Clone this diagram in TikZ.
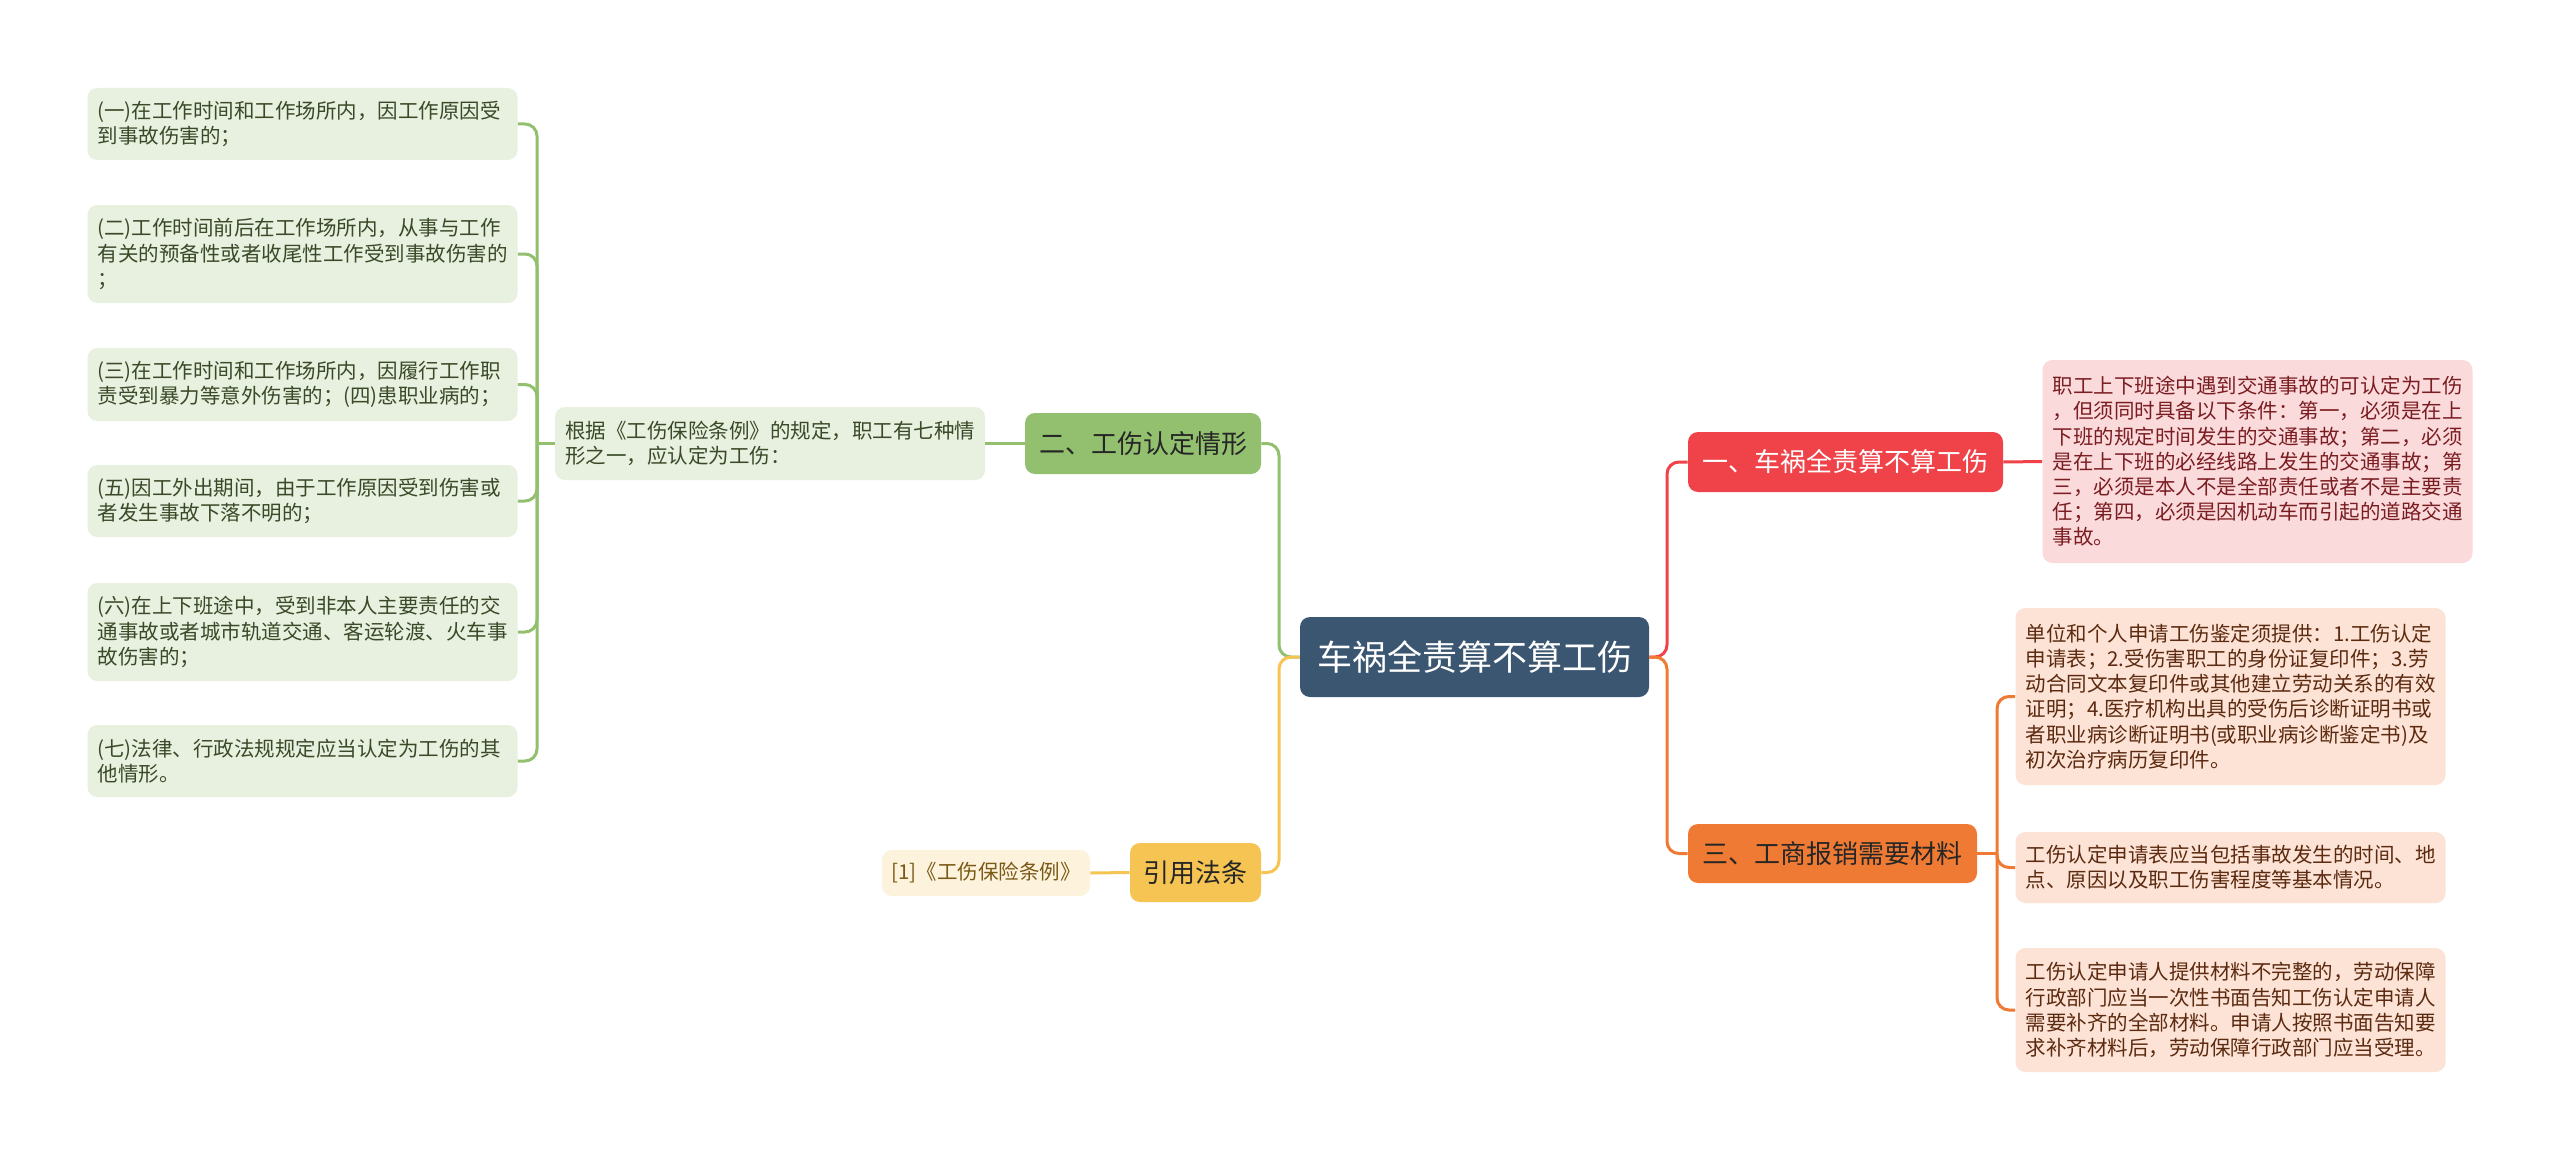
\documentclass[tikz,border=0pt]{standalone}
\usepackage{fontspec}
\setmainfont{Noto Sans CJK SC}
\usepackage{tikz}

\definecolor{rootfill}{HTML}{3B5671}
\definecolor{redmain}{HTML}{EF4349}
\definecolor{redleaf}{HTML}{FBDADB}
\definecolor{redtext}{HTML}{7A1D22}
\definecolor{orgmain}{HTML}{EF7A33}
\definecolor{orgleaf}{HTML}{FCE3D5}
\definecolor{orgtext}{HTML}{5C2A10}
\definecolor{grnmain}{HTML}{92C06F}
\definecolor{grnleaf}{HTML}{E8F0DF}
\definecolor{grntext}{HTML}{3A4A28}
\definecolor{ylwmain}{HTML}{F6C453}
\definecolor{ylwleaf}{HTML}{FDF3DC}
\definecolor{ylwtext}{HTML}{7A5816}

\begin{document}
\begin{tikzpicture}[x=0.5pt,y=0.5pt,yscale=-1,xscale=1,
    box/.style={rounded corners=5pt,inner sep=0pt,align=center},
    leaf/.style={box,inner xsep=5pt,text width=205pt,align=left,
        font=\fontsize{10.25}{12.6}\selectfont},
    topic/.style={box,font=\fontsize{13}{15}\selectfont},
    link/.style={line width=1.5pt,rounded corners=6pt},
    gline/.style={link,draw=grnmain},
    rline/.style={link,draw=redmain},
    oline/.style={link,draw=orgmain},
    yline/.style={link,draw=ylwmain}]
    \useasboundingbox[fill=white] (0,0) rectangle (2560,1161);

    % Root
    \node [box,fill=rootfill,text=white,minimum width=174.5pt,minimum height=40pt,
        font=\fontsize{17.5}{20}\selectfont] (root) at (1474.5,657) {车祸全责算不算工伤};

    % Branch one
    \node [topic,fill=redmain,text=white,minimum width=157.5pt,minimum height=30pt] (one) at (1845.5,462) {一、车祸全责算不算工伤};
    % Text Node
    \node [leaf,fill=redleaf,text=redtext,minimum height=101.5pt] (oneA) at (2257.5,461.5) {职工上下班途中遇到交通事故的可认定为工伤\\，但须同时具备以下条件：第一，必须是在上\\下班的规定时间发生的交通事故；第二，必须\\是在上下班的必经线路上发生的交通事故；第\\三，必须是本人不是全部责任或者不是主要责\\任；第四，必须是因机动车而引起的道路交通\\事故。};

    % Branch three
    \node [topic,fill=orgmain,text=black!85,minimum width=144.5pt,minimum height=29.5pt] (three) at (1832.5,853.5) {三、工商报销需要材料};
    % Text Node
    \node [leaf,fill=orgleaf,text=orgtext,minimum height=88.5pt] (threeA) at (2230.5,696.5) {单位和个人申请工伤鉴定须提供：1.工伤认定\\申请表；2.受伤害职工的身份证复印件；3.劳\\动合同文本复印件或其他建立劳动关系的有效\\证明；4.医疗机构出具的受伤后诊断证明书或\\者职业病诊断证明书(或职业病诊断鉴定书)及\\初次治疗病历复印件。};
    % Text Node
    \node [leaf,fill=orgleaf,text=orgtext,minimum height=35.5pt] (threeB) at (2230.5,867.5) {工伤认定申请表应当包括事故发生的时间、地\\点、原因以及职工伤害程度等基本情况。};
    % Text Node
    \node [leaf,fill=orgleaf,text=orgtext,minimum height=62pt] (threeC) at (2230.5,1010) {工伤认定申请人提供材料不完整的，劳动保障\\行政部门应当一次性书面告知工伤认定申请人\\需要补齐的全部材料。申请人按照书面告知要\\求补齐材料后，劳动保障行政部门应当受理。};

    % Branch two
    \node [topic,fill=grnmain,text=black!85,minimum width=118pt,minimum height=30.5pt] (two) at (1143,443.5) {二、工伤认定情形};
    % Text Node
    \node [leaf,fill=grnleaf,text=grntext,minimum height=36.5pt] (twoA) at (770,443.5) {根据《工伤保险条例》的规定，职工有七种情\\形之一，应认定为工伤：};
    % Text Node
    \node [leaf,fill=grnleaf,text=grntext,minimum height=36pt] (case1) at (302.5,124) {(一)在工作时间和工作场所内，因工作原因受\\到事故伤害的；};
    % Text Node
    \node [leaf,fill=grnleaf,text=grntext,minimum height=49pt] (case2) at (302.5,254) {(二)工作时间前后在工作场所内，从事与工作\\有关的预备性或者收尾性工作受到事故伤害的\\；};
    % Text Node
    \node [leaf,fill=grnleaf,text=grntext,minimum height=36.5pt] (case3) at (302.5,384.5) {(三)在工作时间和工作场所内，因履行工作职\\责受到暴力等意外伤害的；(四)患职业病的；};
    % Text Node
    \node [leaf,fill=grnleaf,text=grntext,minimum height=36pt] (case4) at (302.5,501) {(五)因工外出期间，由于工作原因受到伤害或\\者发生事故下落不明的；};
    % Text Node
    \node [leaf,fill=grnleaf,text=grntext,minimum height=49pt] (case5) at (302.5,632) {(六)在上下班途中，受到非本人主要责任的交\\通事故或者城市轨道交通、客运轮渡、火车事\\故伤害的；};
    % Text Node
    \node [leaf,fill=grnleaf,text=grntext,minimum height=36pt] (case6) at (302.5,761) {(七)法律、行政法规规定应当认定为工伤的其\\他情形。};

    % Branch cite
    \node [topic,fill=ylwmain,text=black!85,minimum width=65.5pt,minimum height=29.5pt] (cite) at (1195.5,872.5) {引用法条};
    % Text Node
    \node [box,fill=ylwleaf,text=ylwtext,minimum width=104pt,minimum height=23pt,
        font=\fontsize{10.25}{12.6}\selectfont] (citeA) at (986,873) {[1]《工伤保险条例》};

    % Junctions
    \coordinate (jl) at (1279,657);
    \coordinate (jr) at (1667,657);
    \coordinate (jg) at (537,443.5);
    \coordinate (jo) at (1997,853.5);

    % Connectors, left side
    \draw [gline] (root.west) -- (jl) |- (two.east);
    \draw [yline] (root.west) -- (jl) |- (cite.east);
    \draw [gline] (two.west) -- (twoA.east);
    \draw [yline] (cite.west) -- (citeA.east);
    \draw [gline] (twoA.west) -- (jg);
    \foreach \c in {case1,case2,case3,case4,case5,case6}
        \draw [gline] (jg) |- (\c.east);

    % Connectors, right side
    \draw [rline] (root.east) -- (jr) |- (one.west);
    \draw [oline] (root.east) -- (jr) |- (three.west);
    \draw [rline] (one.east) -- (oneA.west);
    \draw [oline] (three.east) -- (jo);
    \foreach \c in {threeA,threeB,threeC}
        \draw [oline] (jo) |- (\c.west);
\end{tikzpicture}
\end{document}
